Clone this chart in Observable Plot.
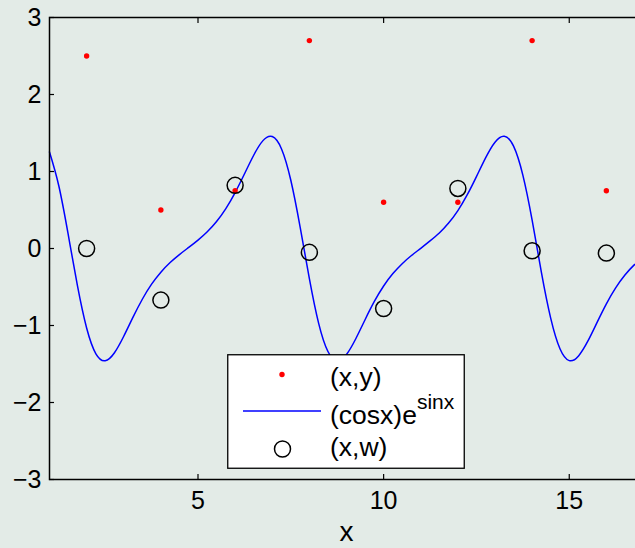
<!DOCTYPE html>
<html><head><meta charset="utf-8">
<script src="https://cdn.jsdelivr.net/npm/d3@7"></script>
<script src="https://cdn.jsdelivr.net/npm/@observablehq/plot@0.6"></script>
<style>
html,body{margin:0;padding:0;background:#e3ebe7;overflow:hidden;width:635px;height:548px}
#wrap{position:relative;width:635px;height:548px;overflow:hidden}
#wrap svg.main{max-width:none!important}
#wrap svg.main text{font-size:25px!important;font-family:'Liberation Sans',Arial,sans-serif!important}
#wrap svg.main g.xlab text{font-size:28px!important}
#legend{position:absolute;left:227px;top:354px;width:238px;height:115px}
</style></head><body><div id="wrap"><div id="legend"></div></div>
<script>
// curve samples
const curveX = [1,1.25,1.5,1.75,2,2.25,2.5,2.75,3,3.25,3.5,3.75,4,4.25,4.5,4.75,5,5.25,5.5,5.75,6,6.25,6.5,6.75,7,7.25,7.5,7.75,8,8.25,8.5,8.75,9,9.25,9.5,9.75,10,10.25,10.5,10.75,11,11.25,11.5,11.75,12,12.25,12.5,12.75,13,13.25,13.5,13.75,14,14.25,14.5,14.75,15,15.25,15.5,15.75,16,16.25,16.5,16.75,17];
const curveY = [1.253,0.815,0.192,-0.477,-1.033,-1.368,-1.458,-1.354,-1.140,-0.892,-0.659,-0.463,-0.307,-0.182,-0.079,0.014,0.109,0.217,0.350,0.518,0.726,0.967,1.211,1.401,1.454,1.293,0.886,0.281,-0.391,-0.972,-1.338,-1.459,-1.376,-1.172,-0.925,-0.688,-0.487,-0.326,-0.197,-0.091,0.002,0.098,0.201,0.330,0.493,0.696,0.934,1.181,1.381,1.458,1.329,0.953,0.368,-0.310,-0.904,-1.302,-1.456,-1.395,-1.204,-0.959,-0.718,-0.511,-0.344,-0.213,-0.105];
// sample points
const ptX = [2,4,6,8,10,12,14,16];
const ptY = [2.5,0.5,0.75,2.7,0.6,0.6,2.7,0.75];
const ptW = [0,-0.67,0.82,-0.05,-0.78,0.78,-0.03,-0.06];
const xTicks = [5,10,15];
const yTicks = [-3,-2,-1,0,1,2,3];
const xLabel = "x";
const legendNames = ["(x,y)", "(cosx)e", "sinx", "(x,w)"];

const curve = curveX.map((x,i)=>({x, y: curveY[i]}));
const pts = ptX.map((x,i)=>({x, y: ptY[i], w: ptW[i]}));
const font = "'Liberation Sans', Arial, Helvetica, sans-serif";
const fmt = d => (d < 0 ? "\u2212" : "") + Math.abs(d);

const chart = Plot.plot({
  width: 645, height: 548,
  marginLeft: 49, marginRight: 2, marginTop: 17, marginBottom: 69,
  style: {background: "transparent", fontFamily: font, fontSize: "24px", color: "black", maxWidth: "none", overflow: "visible"},
  x: {domain: [1,17], label: null},
  y: {domain: [-3,3], label: null},
  marks: [
    Plot.line(curve, {x:"x", y:"y", stroke:"#0000ff", strokeWidth:1.5, curve:"natural"}),
    Plot.dot(pts, {x:"x", y:"y", r:2.7, fill:"#ff0000", stroke:"none"}),
    Plot.dot(pts, {x:"x", y:"w", r:8, stroke:"black", strokeWidth:1.5, fill:"none"}),
    Plot.frame({stroke:"black", strokeWidth:1.5}),
    Plot.axisX({ticks: xTicks, anchor:"bottom", tickSize:5, dy:-5, text:null, label:null, strokeWidth:1.2}),
    Plot.axisX({ticks: xTicks, anchor:"top", tickSize:5, dy:5, text:null, label:null, strokeWidth:1.2}),
    Plot.axisX({ticks: xTicks, anchor:"bottom", tickSize:0, tickPadding:12, label:null, tickFormat: fmt, fill:"black"}),
    Plot.axisY({ticks: yTicks, anchor:"left", tickSize:5, dx:5, text:null, label:null, strokeWidth:1.2}),
    Plot.axisY({ticks: yTicks, anchor:"right", tickSize:5, dx:-5, text:null, label:null, strokeWidth:1.2}),
    Plot.axisY({ticks: yTicks, anchor:"left", tickSize:0, tickPadding:8, label:null, tickFormat: fmt, fill:"black"}),
    Plot.text([xLabel], {frameAnchor:"bottom", dy:61, fill:"black", className:"xlab"})
  ]
});
chart.classList.add("main");
document.getElementById("wrap").insertBefore(chart, document.getElementById("legend"));

// legend
const lg = d3.select("#legend").append("svg").attr("width",238).attr("height",115)
  .style("font-family", font).style("font-size","26.5px");
lg.append("rect").attr("x",0.75).attr("y",0.75).attr("width",236.5).attr("height",113.5)
  .attr("fill","white").attr("stroke","black").attr("stroke-width",1.3);
lg.append("circle").attr("cx",55).attr("cy",20.5).attr("r",2.7).attr("fill","#ff0000");
lg.append("line").attr("x1",16).attr("x2",94).attr("y1",57).attr("y2",57).attr("stroke","#0000ff").attr("stroke-width",1.3);
lg.append("circle").attr("cx",55.5).attr("cy",95).attr("r",8).attr("fill","none").attr("stroke","black").attr("stroke-width",1.5);
lg.append("text").attr("x",103).attr("y",32).text(legendNames[0]);
const t2 = lg.append("text").attr("x",103).attr("y",70);
t2.append("tspan").text(legendNames[1]);
t2.append("tspan").attr("dy",-15).attr("font-size","21px").text(legendNames[2]);
lg.append("text").attr("x",103).attr("y",102).text(legendNames[3]);
</script></body></html>
